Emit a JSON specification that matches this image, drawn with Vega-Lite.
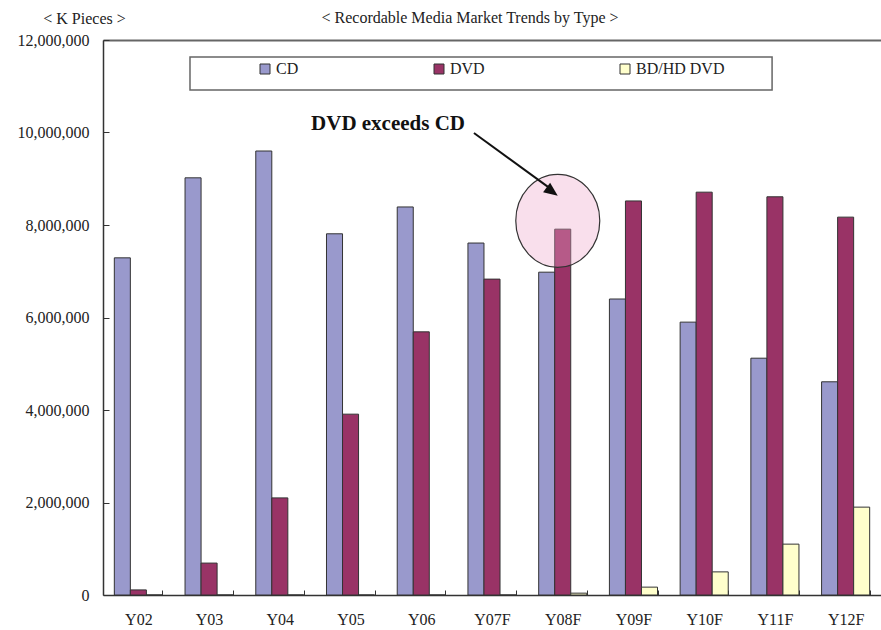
{
  "$schema": "https://vega.github.io/schema/vega-lite/v6.json",
  "width": 778,
  "height": 555,
  "autosize": {"type": "none"},
  "padding": {"left": 103, "top": 40, "right": 0, "bottom": 35},
  "background": "white",
  "config": {
    "view": {"stroke": null},
    "font": "Liberation Serif",
    "axis": {"grid": false, "labelFont": "Liberation Serif", "titleFont": "Liberation Serif", "labelColor": "#222", "titleColor": "#222"}
  },
  "title": {
    "text": "< Recordable Media Market Trends by Type >",
    "font": "Liberation Serif",
    "fontSize": 16,
    "fontWeight": "normal",
    "color": "#222",
    "anchor": "middle",
    "dx": -22,
    "offset": -16
  },
  "resolve": {"scale": {"x": "independent"}, "axis": {"x": "independent"}},
  "layer": [
    {
      "data": {
        "values": [
          {"year": "Y02", "series": "CD", "value": 7290000},
          {"year": "Y02", "series": "DVD", "value": 110000},
          {"year": "Y02", "series": "BD/HD DVD", "value": 0},
          {"year": "Y03", "series": "CD", "value": 9020000},
          {"year": "Y03", "series": "DVD", "value": 690000},
          {"year": "Y03", "series": "BD/HD DVD", "value": 0},
          {"year": "Y04", "series": "CD", "value": 9600000},
          {"year": "Y04", "series": "DVD", "value": 2100000},
          {"year": "Y04", "series": "BD/HD DVD", "value": 0},
          {"year": "Y05", "series": "CD", "value": 7810000},
          {"year": "Y05", "series": "DVD", "value": 3910000},
          {"year": "Y05", "series": "BD/HD DVD", "value": 0},
          {"year": "Y06", "series": "CD", "value": 8390000},
          {"year": "Y06", "series": "DVD", "value": 5690000},
          {"year": "Y06", "series": "BD/HD DVD", "value": 0},
          {"year": "Y07F", "series": "CD", "value": 7610000},
          {"year": "Y07F", "series": "DVD", "value": 6830000},
          {"year": "Y07F", "series": "BD/HD DVD", "value": 0},
          {"year": "Y08F", "series": "CD", "value": 6980000},
          {"year": "Y08F", "series": "DVD", "value": 7910000},
          {"year": "Y08F", "series": "BD/HD DVD", "value": 40000},
          {"year": "Y09F", "series": "CD", "value": 6400000},
          {"year": "Y09F", "series": "DVD", "value": 8520000},
          {"year": "Y09F", "series": "BD/HD DVD", "value": 170000},
          {"year": "Y10F", "series": "CD", "value": 5900000},
          {"year": "Y10F", "series": "DVD", "value": 8710000},
          {"year": "Y10F", "series": "BD/HD DVD", "value": 500000},
          {"year": "Y11F", "series": "CD", "value": 5120000},
          {"year": "Y11F", "series": "DVD", "value": 8610000},
          {"year": "Y11F", "series": "BD/HD DVD", "value": 1100000},
          {"year": "Y12F", "series": "CD", "value": 4610000},
          {"year": "Y12F", "series": "DVD", "value": 8170000},
          {"year": "Y12F", "series": "BD/HD DVD", "value": 1900000}
        ]
      },
      "mark": {"type": "bar", "stroke": "#333", "strokeWidth": 1},
      "encoding": {
        "x": {
          "field": "year", "type": "nominal", "sort": null,
          "scale": {"paddingInner": 0.32, "paddingOuter": 0.16},
          "axis": {
            "title": null, "labelAngle": 0, "labelFontSize": 16,
            "domainColor": "#333", "domainWidth": 1.5,
            "tickColor": "#333", "tickSize": -5, "tickBand": "extent",
            "labelPadding": 21
          }
        },
        "xOffset": {"field": "series", "type": "nominal", "sort": ["CD", "DVD", "BD/HD DVD"]},
        "y": {
          "field": "value", "type": "quantitative",
          "scale": {"domain": [0, 12000000], "nice": false},
          "axis": {
            "values": [0, 2000000, 4000000, 6000000, 8000000, 10000000, 12000000],
            "format": ",d",
            "labelFontSize": 16,
            "domainColor": "#333", "domainWidth": 1.5,
            "tickColor": "#333", "tickSize": -6,
            "labelPadding": 20,
            "title": "< K Pieces >",
            "titleAngle": 0, "titleX": -19, "titleY": -22,
            "titleAlign": "center", "titleBaseline": "middle",
            "titleFontSize": 16, "titleFontWeight": "normal"
          }
        },
        "color": {
          "field": "series", "type": "nominal",
          "scale": {"domain": ["CD", "DVD", "BD/HD DVD"], "range": ["#9999CC", "#993366", "#FFFFCC"]},
          "legend": {
            "title": null,
            "orient": "none",
            "legendX": 154,
            "legendY": 21,
            "direction": "horizontal",
            "columns": 3,
            "columnPadding": 132,
            "symbolType": "square",
            "symbolSize": 100,
            "symbolStrokeColor": "#333",
            "symbolStrokeWidth": 1,
            "symbolOpacity": 1,
            "labelFont": "Liberation Serif",
            "labelFontSize": 16,
            "labelColor": "#222",
            "labelOffset": 3,
            "padding": 0
          }
        }
      }
    },
    {
      "data": {"values": [{"x": 1.23, "x2": 9.46, "y": 11630000, "y2": 10920000}]},
      "mark": {"type": "rect", "fill": "white", "stroke": "#666", "strokeWidth": 1.5},
      "encoding": {
        "x": {
          "field": "x", "type": "quantitative",
          "scale": {"domain": [0, 11], "nice": false, "zero": false},
          "axis": {"orient": "top", "labels": false, "ticks": false, "title": null, "domainColor": "#666", "domainWidth": 2}
        },
        "x2": {"field": "x2"},
        "y": {"field": "y", "type": "quantitative", "scale": {"domain": [0, 12000000], "nice": false}},
        "y2": {"field": "y2"}
      }
    },
    {
      "data": {"values": [{"x": 6.43, "y": 8090000}]},
      "mark": {
        "type": "point", "filled": true, "fill": "#EEA3C8", "fillOpacity": 0.35,
        "stroke": "#333", "strokeWidth": 1.2, "strokeOpacity": 1, "opacity": 1,
        "size": 7056,
        "shape": "M 1 0 C 1 0.611 0.552 1.107 0 1.107 C -0.552 1.107 -1 0.611 -1 0 C -1 -0.611 -0.552 -1.107 0 -1.107 C 0.552 -1.107 1 -0.611 1 0 Z"
      },
      "encoding": {
        "x": {"field": "x", "type": "quantitative", "scale": {"domain": [0, 11], "nice": false, "zero": false}, "axis": null},
        "y": {"field": "y", "type": "quantitative", "scale": {"domain": [0, 12000000], "nice": false}}
      }
    },
    {
      "data": {"values": [{"x": 5.245, "y": 9990000, "x2": 6.35, "y2": 8760000}]},
      "mark": {"type": "rule", "stroke": "#111", "strokeWidth": 2},
      "encoding": {
        "x": {"field": "x", "type": "quantitative", "scale": {"domain": [0, 11], "nice": false, "zero": false}, "axis": null},
        "y": {"field": "y", "type": "quantitative", "scale": {"domain": [0, 12000000], "nice": false}},
        "x2": {"field": "x2"},
        "y2": {"field": "y2"}
      }
    },
    {
      "data": {"values": [{"x": 6.43, "y": 8630000}]},
      "mark": {
        "type": "point", "filled": true, "fill": "#111", "stroke": null, "opacity": 1,
        "size": 784, "angle": 36.9,
        "shape": "M 0 0 L -1 -0.42 L -1 0.42 Z"
      },
      "encoding": {
        "x": {"field": "x", "type": "quantitative", "scale": {"domain": [0, 11], "nice": false, "zero": false}, "axis": null},
        "y": {"field": "y", "type": "quantitative", "scale": {"domain": [0, 12000000], "nice": false}}
      }
    },
    {
      "data": {"values": [{"x": 4.03, "y": 10050000, "label": "DVD exceeds CD"}]},
      "mark": {
        "type": "text", "font": "Liberation Serif", "fontSize": 21, "fontWeight": "bold",
        "align": "center", "baseline": "alphabetic", "color": "#111"
      },
      "encoding": {
        "x": {"field": "x", "type": "quantitative", "scale": {"domain": [0, 11], "nice": false, "zero": false}, "axis": null},
        "y": {"field": "y", "type": "quantitative", "scale": {"domain": [0, 12000000], "nice": false}},
        "text": {"field": "label"}
      }
    }
  ]
}
